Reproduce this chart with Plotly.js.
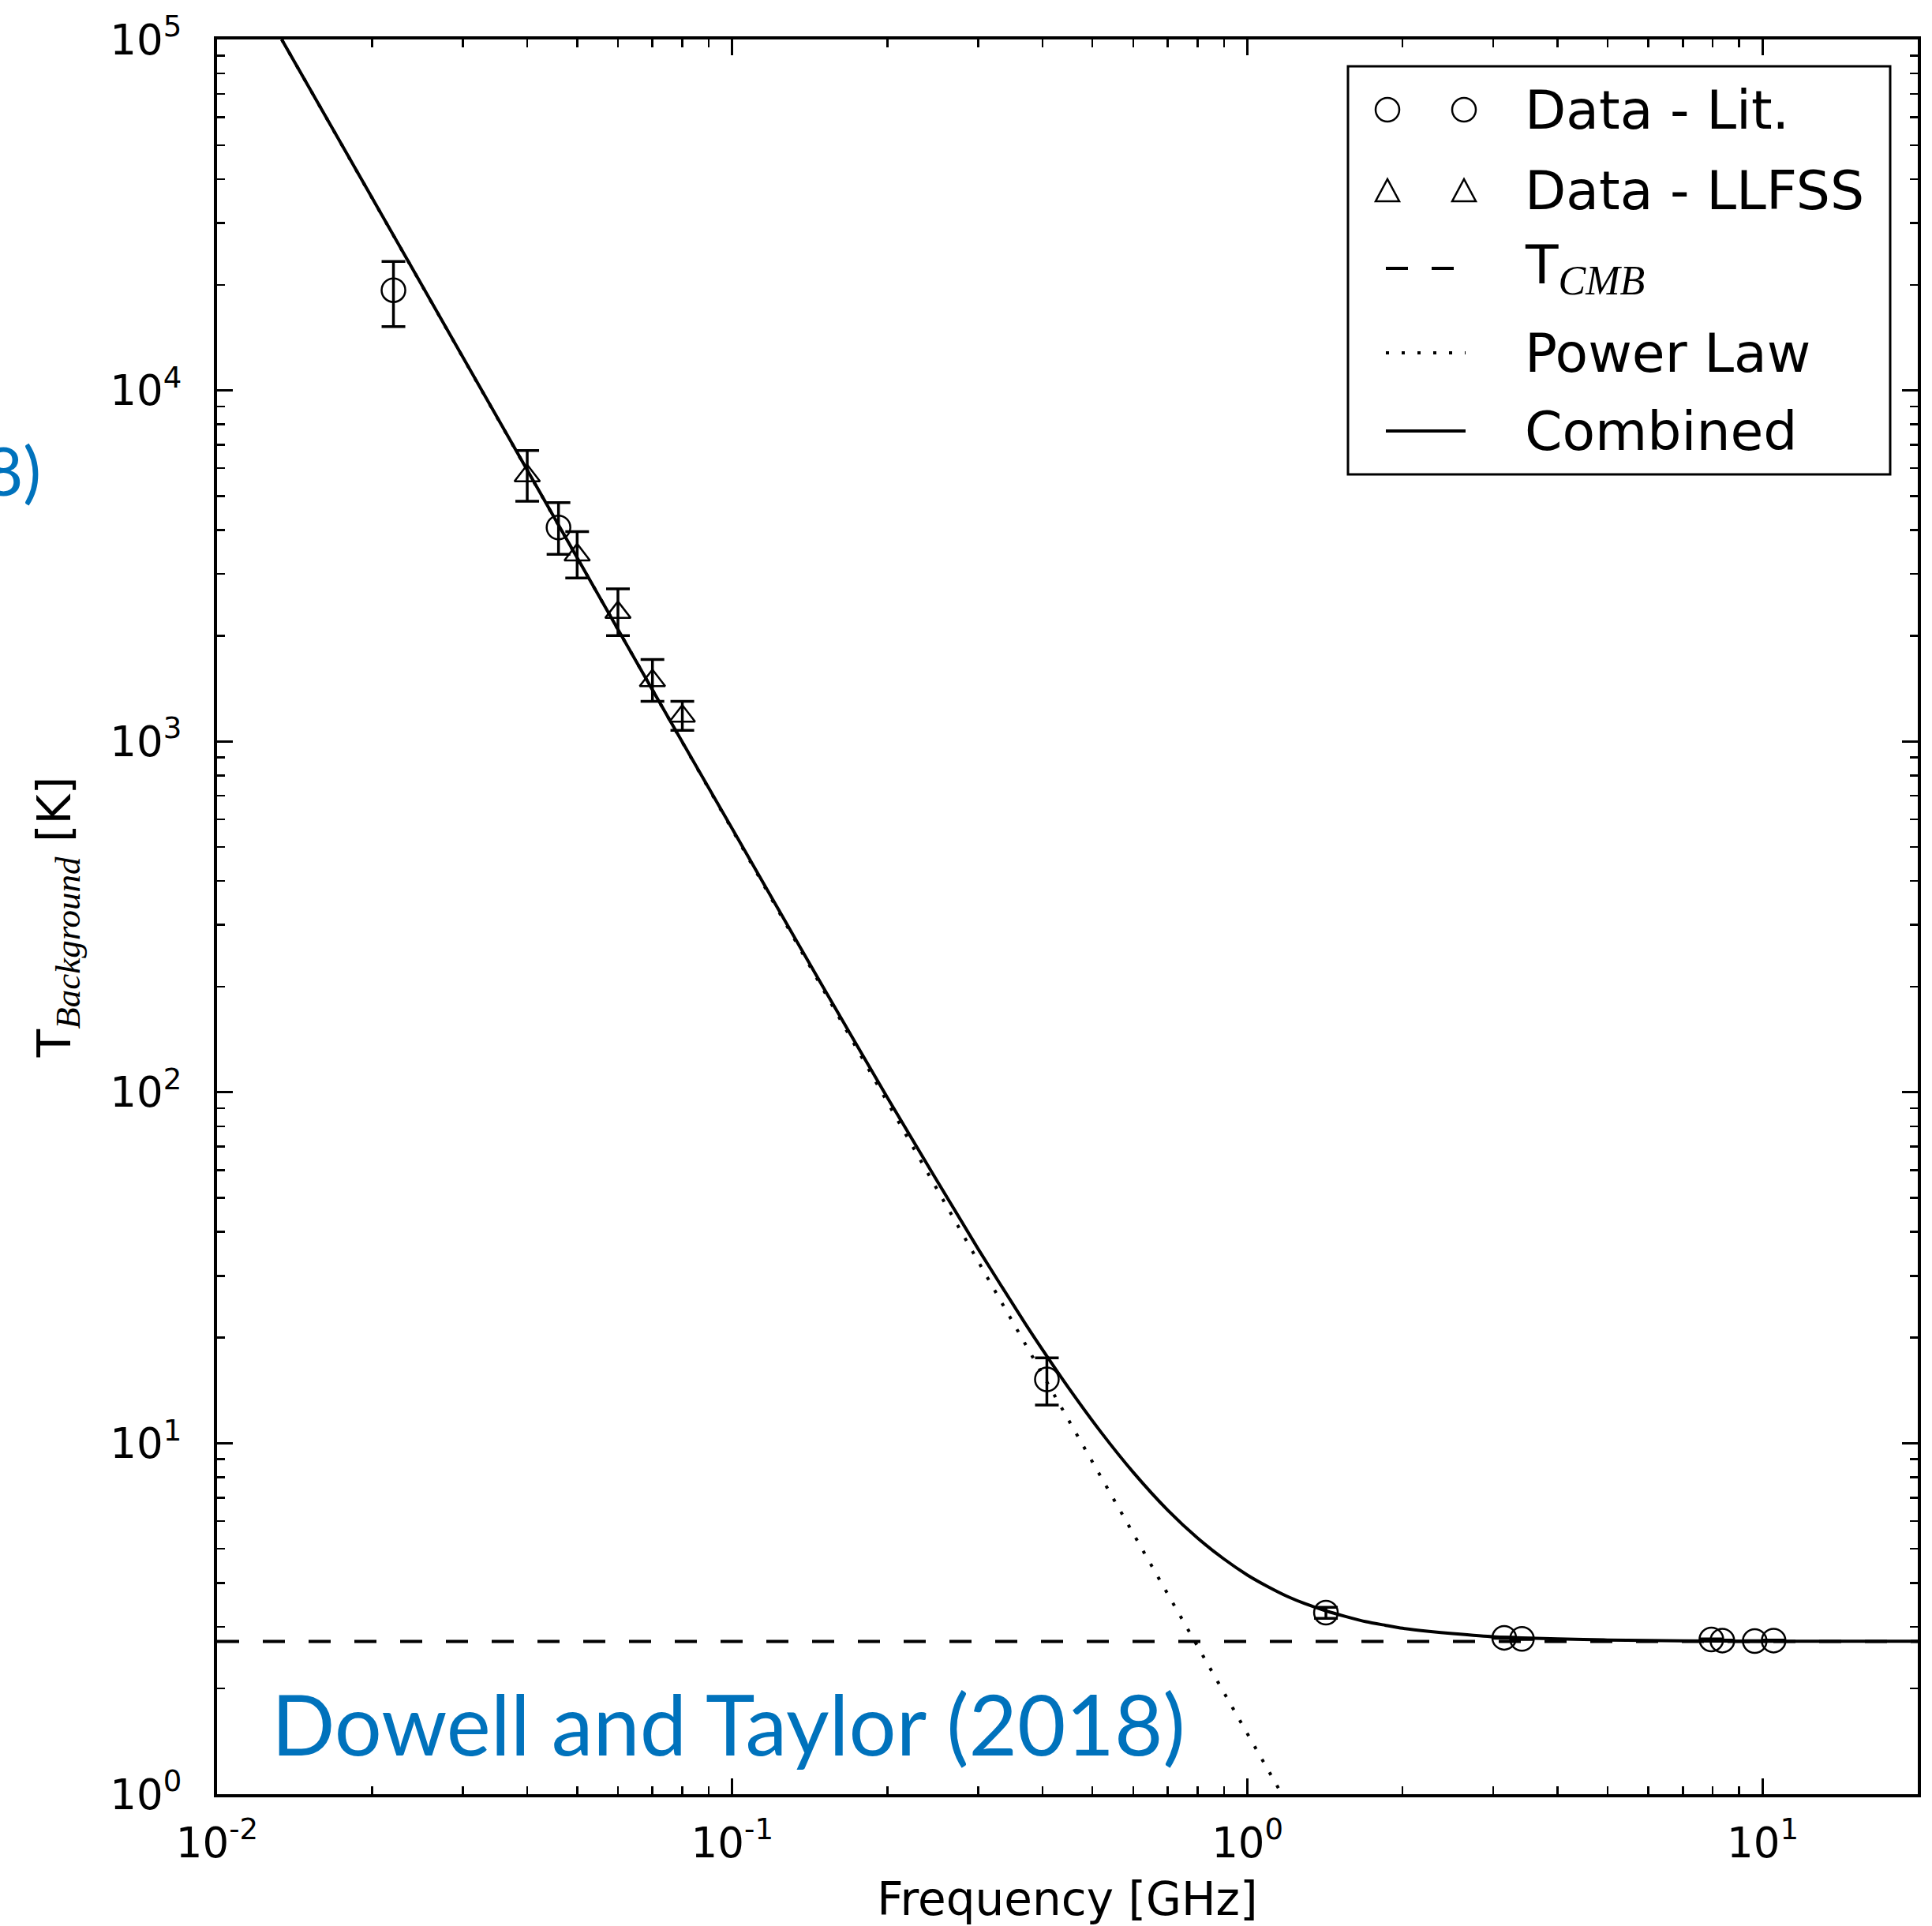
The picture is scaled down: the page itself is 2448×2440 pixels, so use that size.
<!DOCTYPE html>
<html>
<head>
<meta charset="utf-8">
<script src="https://cdn.plot.ly/plotly-3.0.1.min.js"></script>
<style>html,body{margin:0;padding:0;background:#ffffff;}</style>
</head>
<body>
<div id="chart" style="width:2448px;height:2440px;"></div>
<script>
// ---- Data ----
// Literature data (circles): frequency [GHz], temperature [K], errors
const litFreq = [0.0220, 0.046, 0.408, 1.42, 3.15, 3.41, 7.95, 8.35, 9.65, 10.5];
const litT = [19300, 4070, 15.2, 3.29, 2.79, 2.77, 2.76, 2.74, 2.73, 2.74];
const litErrPlus = [4000, 720, 2.3, 0.12, 0.01, 0.01, 0.01, 0.01, 0.01, 0.01];
const litErrMinus = [4100, 660, 2.35, 0.12, 0.01, 0.01, 0.01, 0.01, 0.01, 0.01];

// LLFSS data (triangles)
const llfssFreq = [0.040, 0.050, 0.060, 0.070, 0.080];
const llfssT = [5710, 3400, 2330, 1490, 1180];
const llfssErrPlus = [1030, 560, 390, 220, 120];
const llfssErrMinus = [880, 480, 330, 190, 105];

// CMB temperature line
const cmbFreq = [0.01, 20];
const cmbT = [2.725, 2.725];

// Power-law (dotted) end points
const plFreq = [0.01335, 1.166];
const plT = [100000, 1];

// Combined curve
const combFreq = [0.01335, 0.02, 0.03, 0.05, 0.07, 0.1, 0.15, 0.2, 0.3, 0.37, 0.408, 0.45, 0.52, 0.6, 0.7, 0.8, 0.9, 1.0, 1.1, 1.2, 1.3, 1.42, 1.55, 1.7, 1.85, 2.0, 2.25, 2.5, 3.0, 3.5, 4.0, 5.0, 7.0, 10, 14, 20];
const combT = [100000, 35340, 12440, 3336, 1402, 563, 199.7, 96.6, 35.8, 21.98, 17.7, 14.35, 10.74, 8.27, 6.45, 5.37, 4.68, 4.21, 3.89, 3.65, 3.48, 3.33, 3.21, 3.10, 3.03, 2.97, 2.91, 2.87, 2.81, 2.784, 2.77, 2.75, 2.735, 2.729, 2.727, 2.726];

// Tick labels
const xTickVals = [0.01, 0.1, 1, 10];
const xTickText = ['10<sup>-2</sup>', '10<sup>-1</sup>', '10<sup>0</sup>', '10<sup>1</sup>'];
const xMinorVals = [0.02,0.03,0.04,0.05,0.06,0.07,0.08,0.09,0.2,0.3,0.4,0.5,0.6,0.7,0.8,0.9,2,3,4,5,6,7,8,9];
const yTickVals = [1, 10, 100, 1000, 10000, 100000];
const yTickText = ['10<sup>0</sup>', '10<sup>1</sup>', '10<sup>2</sup>', '10<sup>3</sup>', '10<sup>4</sup>', '10<sup>5</sup>'];
const yMinorVals = [2,3,4,5,6,7,8,9,20,30,40,50,60,70,80,90,200,300,400,500,600,700,800,900,2000,3000,4000,5000,6000,7000,8000,9000,20000,30000,40000,50000,60000,70000,80000,90000];

// Legend labels
const legendLabels = ['Data - Lit.', 'Data - LLFSS', 'T<sub><span style="font-family:\'Liberation Serif\';font-style:italic;font-size:52px;">CMB</span></sub>', 'Power Law', 'Combined'];

// ---- Geometry (pixels) ----
const W = 2448, H = 2440;
const PL_ = 275, PR_ = 2430, PT_ = 50, PB_ = 2273;
const pxX = p => (p - PL_) / (PR_ - PL_);
const pxY = p => (PB_ - p) / (PB_ - PT_);

const black = '#000000';
const blue = '#0072BC';

const traces = [
  {
    x: combFreq, y: combT, type: 'scatter', mode: 'lines', name: 'Combined',
    line: {color: black, width: 4, shape: 'spline', smoothing: 0.6}, showlegend: false, hoverinfo: 'skip'
  },
  {
    x: plFreq, y: plT, type: 'scatter', mode: 'lines', name: 'Power Law',
    line: {color: black, width: 4, dash: '4px,15px'}, showlegend: false, hoverinfo: 'skip'
  },
  {
    x: cmbFreq, y: cmbT, type: 'scatter', mode: 'lines', name: 'T_CMB',
    line: {color: black, width: 4, dash: '28px,30px'}, showlegend: false, hoverinfo: 'skip'
  },
  {
    x: litFreq, y: litT, type: 'scatter', mode: 'markers', name: 'Data - Lit.',
    marker: {symbol: 'circle-open', size: 30, color: black, line: {width: 2.5, color: black}},
    error_y: {type: 'data', symmetric: false, array: litErrPlus, arrayminus: litErrMinus, color: black, thickness: 3.5, width: 15},
    showlegend: false
  },
  {
    x: llfssFreq, y: llfssT, type: 'scatter', mode: 'markers', name: 'Data - LLFSS',
    marker: {symbol: 'triangle-up-open', size: 28, color: black, line: {width: 2.5, color: black}},
    error_y: {type: 'data', symmetric: false, array: llfssErrPlus, arrayminus: llfssErrMinus, color: black, thickness: 3.5, width: 15},
    showlegend: false
  }
];

// Legend (drawn as decoration)
const boxL = 1708, boxR = 2395, boxT = 84, boxB = 601;
const rowY = [139, 241, 340, 447, 546];
const symA = 1758, symB = 1855, lineA = 1756, lineB = 1857;
const textX = 1930;

const shapes = [
  {type: 'rect', xref: 'paper', yref: 'paper', x0: pxX(boxL), x1: pxX(boxR), y0: pxY(boxB), y1: pxY(boxT),
   line: {color: black, width: 3}, fillcolor: '#ffffff', layer: 'above'}
];
[symA, symB].forEach(sx => {
  shapes.push({type: 'circle', xref: 'paper', yref: 'paper', xsizemode: 'pixel', ysizemode: 'pixel',
    xanchor: pxX(sx), yanchor: pxY(rowY[0]), x0: -15, x1: 15, y0: -15, y1: 15,
    line: {color: black, width: 2.5}, layer: 'above'});
  shapes.push({type: 'path', xref: 'paper', yref: 'paper', xsizemode: 'pixel', ysizemode: 'pixel',
    xanchor: pxX(sx), yanchor: pxY(rowY[1]),
    path: 'M-15,-14 L15,-14 L0,14 Z',
    line: {color: black, width: 2.5}, layer: 'above'});
});
shapes.push({type: 'line', xref: 'paper', yref: 'paper', x0: pxX(lineA), x1: pxX(lineB), y0: pxY(rowY[2]), y1: pxY(rowY[2]),
  line: {color: black, width: 4, dash: '28px,30px'}, layer: 'above'});
shapes.push({type: 'line', xref: 'paper', yref: 'paper', x0: pxX(lineA), x1: pxX(lineB), y0: pxY(rowY[3]), y1: pxY(rowY[3]),
  line: {color: black, width: 4, dash: '4px,16px'}, layer: 'above'});
shapes.push({type: 'line', xref: 'paper', yref: 'paper', x0: pxX(lineA), x1: pxX(lineB), y0: pxY(rowY[4]), y1: pxY(rowY[4]),
  line: {color: black, width: 4}, layer: 'above'});

const annotations = legendLabels.map((t, i) => ({
  xref: 'paper', yref: 'paper', x: pxX(textX), y: pxY(rowY[i]), xanchor: 'left', yanchor: 'middle',
  text: t, showarrow: false, font: {family: 'DejaVu Sans', size: 68, color: black}
}));
annotations.push({
  xref: 'paper', yref: 'paper', x: pxX(342), y: pxY(2183), xanchor: 'left', yanchor: 'middle',
  text: 'Dowell and Taylor (2018)', showarrow: false, font: {family: 'Lato', size: 106, color: blue}
});
annotations.push({
  xref: 'paper', yref: 'paper', x: pxX(54), y: pxY(594), xanchor: 'right', yanchor: 'middle',
  text: 'Dowell and Taylor (2018)', showarrow: false, font: {family: 'Lato', size: 86, color: blue}
});

const layout = {
  width: W, height: H,
  paper_bgcolor: '#ffffff', plot_bgcolor: '#ffffff',
  margin: {l: PL_, r: W - PR_, t: PT_, b: H - PB_, pad: 0},
  font: {family: 'DejaVu Sans', size: 53, color: black},
  showlegend: false,
  xaxis: {
    type: 'log', range: [-2, Math.log10(20)], autorange: false,
    showline: true, linecolor: black, linewidth: 4, mirror: 'allticks',
    ticks: 'inside', ticklen: 20, tickwidth: 3, tickcolor: black,
    tickmode: 'array', tickvals: xTickVals, ticktext: xTickText,
    tickfont: {family: 'DejaVu Sans', size: 53, color: black},
    ticklabelstandoff: 12,
    minor: {ticks: 'inside', ticklen: 10, tickwidth: 2.5, tickcolor: black, tickmode: 'array', tickvals: xMinorVals, showgrid: false},
    showgrid: false, zeroline: false,
    title: {text: 'Frequency [GHz]', font: {family: 'DejaVu Sans', size: 58, color: black}, standoff: 30}
  },
  yaxis: {
    type: 'log', range: [0, 5], autorange: false,
    showline: true, linecolor: black, linewidth: 4, mirror: 'allticks',
    ticks: 'inside', ticklen: 20, tickwidth: 3, tickcolor: black,
    tickmode: 'array', tickvals: yTickVals, ticktext: yTickText,
    tickfont: {family: 'DejaVu Sans', size: 53, color: black},
    ticklabelstandoff: 30,
    minor: {ticks: 'inside', ticklen: 10, tickwidth: 2.5, tickcolor: black, tickmode: 'array', tickvals: yMinorVals, showgrid: false},
    showgrid: false, zeroline: false,
    title: {text: 'T<sub><span style="font-family:\'Liberation Serif\';font-style:italic;font-size:45px;">Background</span></sub> [K]',
            font: {family: 'DejaVu Sans', size: 58, color: black}, standoff: 32}
  },
  shapes: shapes,
  annotations: annotations
};

Plotly.newPlot('chart', traces, layout, {staticPlot: true, displayModeBar: false});
</script>
</body>
</html>
